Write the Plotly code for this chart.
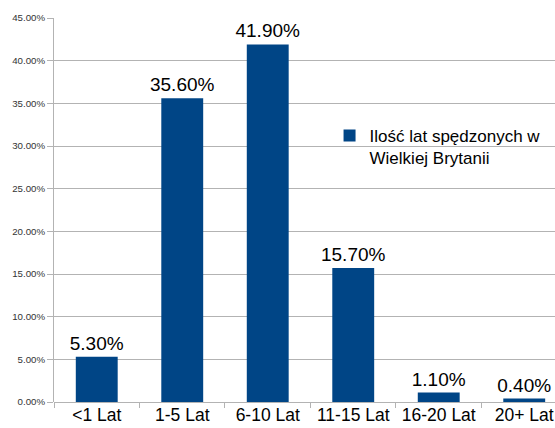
import plotly.graph_objects as go

categories = ["<1 Lat", "1-5 Lat", "6-10 Lat", "11-15 Lat", "16-20 Lat", "20+ Lat"]
values = [0.053, 0.356, 0.419, 0.157, 0.011, 0.004]
series_name = "Ilość lat spędzonych w<br>Wielkiej Brytanii"
y_ticks = [0, 0.05, 0.10, 0.15, 0.20, 0.25, 0.30, 0.35, 0.40, 0.45]

fig = go.Figure()
fig.add_trace(go.Bar(
    x=categories, y=values, name=series_name,
    marker=dict(color="#004586", line=dict(width=0)),
    width=0.49,
    texttemplate="%{y:.2%}", textposition="outside",
    textfont=dict(size=19, color="#000000"),
    constraintext="none",
    cliponaxis=False,
    showlegend=True,
))

fig.update_layout(
    width=555, height=428,
    margin=dict(l=54, r=0, t=18, b=26),
    paper_bgcolor="white", plot_bgcolor="white",
    font=dict(family="Liberation Sans, Arial, sans-serif", color="#000000"),
    showlegend=True,
    legend=dict(x=0.55, y=0.74, xanchor="left", yanchor="top",
                bgcolor="rgba(0,0,0,0)", font=dict(size=17, color="#000000"),
                valign="top"),
    bargap=0.51,
)
fig.update_xaxes(
    range=[-0.5, 5.36], showgrid=False,
    ticks="outside", tickson="boundaries", ticklen=5, tickcolor="#b3b3b3",
    tickfont=dict(size=17.5, color="#000000"), showline=False,
)
fig.update_yaxes(
    range=[0, 0.45], tickvals=y_ticks, tickformat=".2%",
    showgrid=True, gridcolor="#b3b3b3", gridwidth=1,
    zeroline=True, zerolinecolor="#b3b3b3", zerolinewidth=1,
    showline=True, linecolor="#b3b3b3", linewidth=1,
    ticks="outside", ticklen=6, tickcolor="#b3b3b3",
    tickfont=dict(size=9.7, color="#333333"),
)

fig.write_html("out.html")
